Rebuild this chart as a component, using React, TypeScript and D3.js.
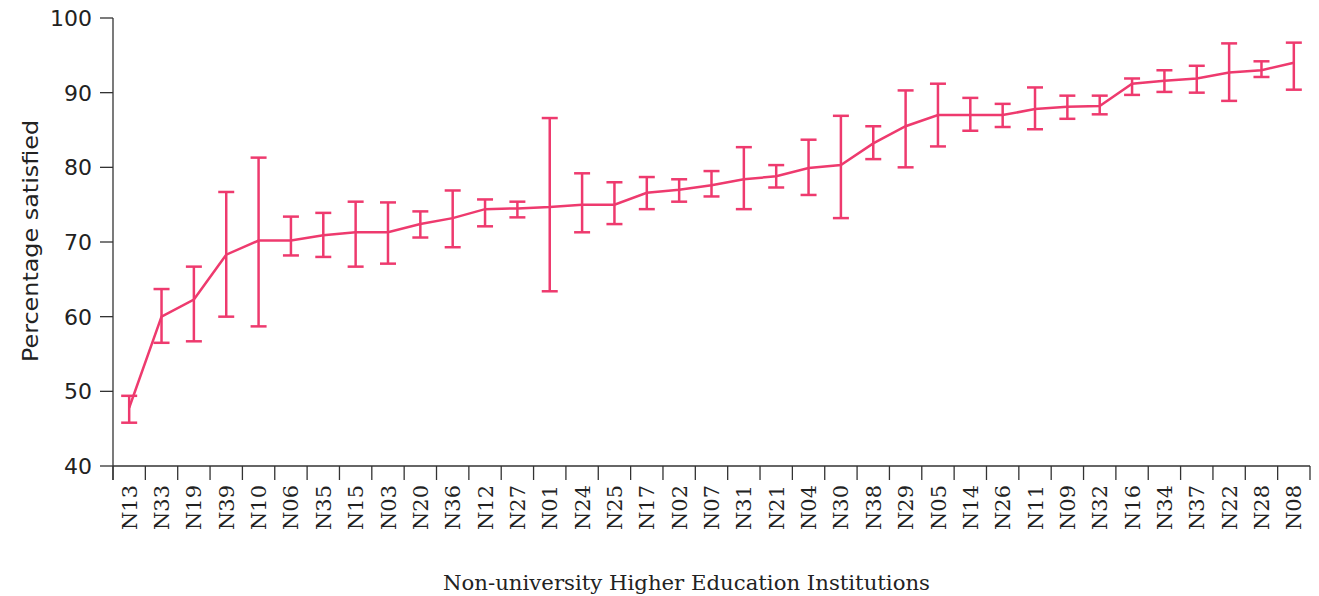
import React from 'react';
import * as d3 from 'd3';

const institutions = [
  'N13', 'N33', 'N19', 'N39', 'N10', 'N06', 'N35', 'N15', 'N03', 'N20', 'N36', 'N12', 'N27',
  'N01', 'N24', 'N25', 'N17', 'N02', 'N07', 'N31', 'N21', 'N04', 'N30', 'N38', 'N29', 'N05',
  'N14', 'N26', 'N11', 'N09', 'N32', 'N16', 'N34', 'N37', 'N22', 'N28', 'N08',
];

// percentage satisfied, with lower / upper bounds of the interval
const satisfied = [
  47.8, 60.0, 62.3, 68.3, 70.2, 70.2, 70.9, 71.3, 71.3, 72.4, 73.2, 74.4, 74.5,
  74.7, 75.0, 75.0, 76.6, 77.0, 77.6, 78.4, 78.8, 79.9, 80.3, 83.2, 85.5, 87.0,
  87.0, 87.0, 87.8, 88.1, 88.2, 91.2, 91.6, 91.9, 92.7, 93.0, 94.0,
];
const lower = [
  45.8, 56.5, 56.7, 60.0, 58.7, 68.2, 68.0, 66.7, 67.1, 70.6, 69.3, 72.1, 73.3,
  63.4, 71.3, 72.4, 74.4, 75.4, 76.1, 74.4, 77.3, 76.3, 73.2, 81.1, 80.0, 82.8,
  84.9, 85.4, 85.1, 86.5, 87.1, 89.7, 90.1, 90.0, 88.9, 92.1, 90.4,
];
const upper = [
  49.4, 63.7, 66.7, 76.7, 81.3, 73.4, 73.9, 75.4, 75.3, 74.1, 76.9, 75.7, 75.4,
  86.6, 79.2, 78.0, 78.7, 78.4, 79.5, 82.7, 80.3, 83.7, 86.9, 85.5, 90.3, 91.2,
  89.3, 88.5, 90.7, 89.6, 89.6, 91.9, 93.0, 93.6, 96.6, 94.2, 96.7,
];
const yTicks = [40, 50, 60, 70, 80, 90, 100];

const W = 1319;
const H = 596;
const left = 113;
const right = 1310;
const top = 18;
const bottom = 466;
const pink = '#EE3A6E';
const axisColor = '#333';
const sansFont = '"DejaVu Sans", sans-serif';
const slabFont = '"DejaVu Serif", serif';

const App: React.FC = () => {
  const x = d3.scaleBand<string>().domain(institutions).range([left, right]);
  const y = d3.scaleLinear().domain([40, 100]).range([bottom, top]);
  const cx = (i: number) => (x(institutions[i]) ?? 0) + x.bandwidth() / 2;

  const line = d3.line<number>()
    .x((_, i) => cx(i))
    .y(d => y(d));

  const boundaries = [...institutions.map(c => x(c) ?? 0), right];
  const capHalf = 8;

  return (
    <svg width={W} height={H} style={{ position: 'absolute', left: 0, top: 0, background: '#fff' }}>
      {/* y axis */}
      <line x1={left} x2={left} y1={top} y2={bottom + 14} stroke={axisColor} strokeWidth={1.3} />
      {yTicks.map(t => (
        <g key={t}>
          <line x1={left - 13} x2={left} y1={y(t)} y2={y(t)} stroke={axisColor} strokeWidth={1.3} />
          <text x={92} y={y(t)} dy="0.36em" textAnchor="end" fill="#222"
            style={{ fontFamily: sansFont, fontSize: 22 }}>{t}</text>
        </g>
      ))}
      <text transform={`translate(38,241) rotate(-90)`} textAnchor="middle" fill="#222"
        textLength={242} lengthAdjust="spacingAndGlyphs"
        style={{ fontFamily: sansFont, fontSize: 21 }}>Percentage satisfied</text>

      {/* x axis */}
      <line x1={left} x2={right} y1={bottom} y2={bottom} stroke={axisColor} strokeWidth={1.3} />
      {boundaries.map((b, i) => (
        <line key={i} x1={b} x2={b} y1={bottom} y2={bottom + 14} stroke={axisColor} strokeWidth={1.3} />
      ))}
      {institutions.map((c, i) => (
        <text key={c} transform={`translate(${cx(i)},485) rotate(-90)`} textAnchor="end" dy="0.36em"
          fill="#222" textLength={45} lengthAdjust="spacingAndGlyphs"
          style={{ fontFamily: slabFont, fontSize: 21 }}>{c}</text>
      ))}
      <text x={(443 + 930) / 2} y={590} textAnchor="middle" fill="#222"
        textLength={487} lengthAdjust="spacingAndGlyphs"
        style={{ fontFamily: slabFont, fontSize: 20 }}>Non-university Higher Education Institutions</text>

      {/* error bars */}
      {institutions.map((c, i) => (
        <g key={c} stroke={pink} strokeWidth={2.5} fill="none">
          <line x1={cx(i)} x2={cx(i)} y1={y(lower[i])} y2={y(upper[i])} />
          <line x1={cx(i) - capHalf} x2={cx(i) + capHalf} y1={y(lower[i])} y2={y(lower[i])} />
          <line x1={cx(i) - capHalf} x2={cx(i) + capHalf} y1={y(upper[i])} y2={y(upper[i])} />
        </g>
      ))}

      {/* mean line */}
      <path d={line(satisfied) ?? ''} fill="none" stroke={pink} strokeWidth={2.5} />
    </svg>
  );
};

export default App;
